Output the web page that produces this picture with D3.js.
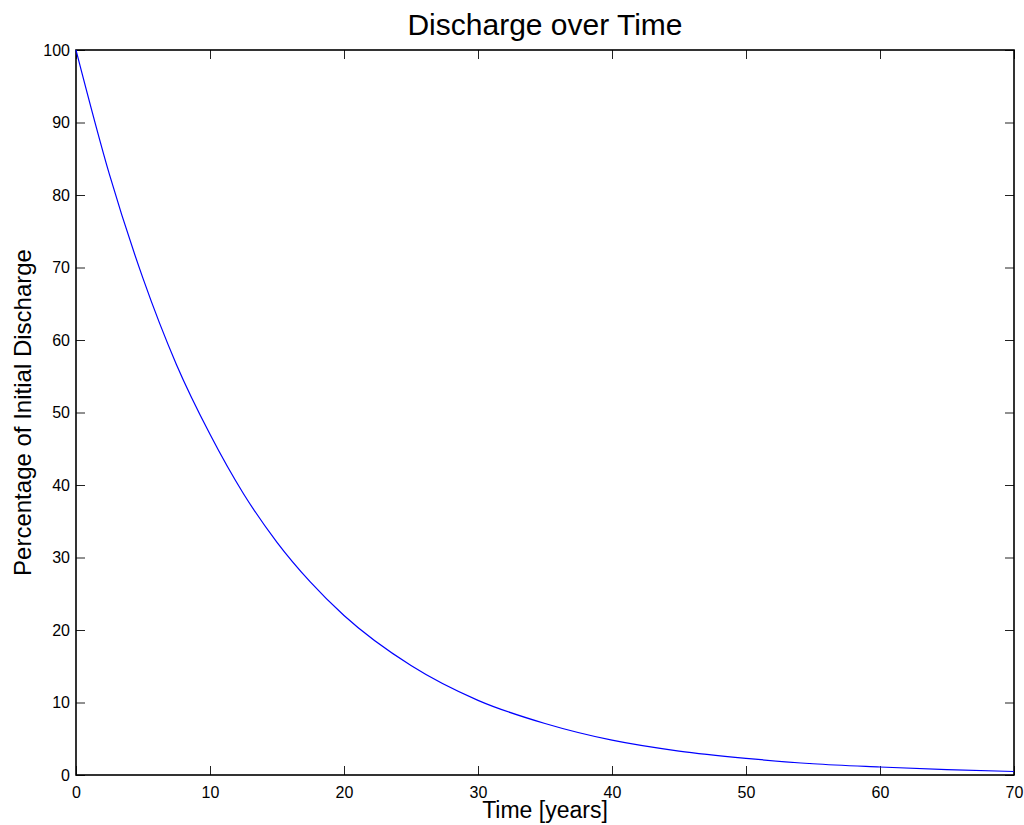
<!DOCTYPE html>
<html>
<head>
<meta charset="utf-8">
<script src="https://cdn.jsdelivr.net/npm/d3@7"></script>
<style>
  body { margin: 0; background: #fff; }
  text { font-family: "Liberation Sans", Arial, Helvetica, sans-serif; fill: #000; }
</style>
</head>
<body>
<div id="container"></div>
<script>
// Chart size
var svg_width = 1024
var svg_height = 825

// Data (years, percent of initial discharge)
var years = [0, 2.5, 5, 7.5, 10, 12.5, 15, 17.5, 20, 25, 30, 35, 40, 45, 50, 55, 60, 65, 70]
var discharge = [100, 82.8, 68.5, 56.6, 47, 38.8, 32.1, 26.6, 22, 15.1, 10.3, 7.1, 4.8, 3.3, 2.3, 1.55, 1.1, 0.73, 0.48]

// Tick values
var xTicks = [0, 10, 20, 30, 40, 50, 60, 70]
var yTicks = [0, 10, 20, 30, 40, 50, 60, 70, 80, 90, 100]

// Axes box (plot area edges)
var boxLeft = 76, boxRight = 1014, boxTop = 50, boxBottom = 775
var tickLen = 9

var svg = d3.select("#container")
    .append("svg")
    .attr("width", svg_width)
    .attr("height", svg_height)

var x = d3.scaleLinear().domain([0, 70]).range([boxLeft, boxRight])
var y = d3.scaleLinear().domain([0, 100]).range([boxBottom, boxTop])

// bottom axis (labels) and top axis (ticks only)
svg.append("g")
    .attr("transform", "translate(0," + boxBottom + ")")
    .call(d3.axisBottom(x).tickValues(xTicks).tickSize(-tickLen).tickPadding(12).tickFormat(d3.format("d")))
svg.append("g")
    .attr("transform", "translate(0," + boxTop + ")")
    .call(d3.axisTop(x).tickValues(xTicks).tickSize(-tickLen).tickFormat(""))

// left axis (labels) and right axis (ticks only)
svg.append("g")
    .attr("transform", "translate(" + boxLeft + ",0)")
    .call(d3.axisLeft(y).tickValues(yTicks).tickSize(-tickLen).tickPadding(6).tickFormat(d3.format("d")))
svg.append("g")
    .attr("transform", "translate(" + boxRight + ",0)")
    .call(d3.axisRight(y).tickValues(yTicks).tickSize(-tickLen).tickFormat(""))

svg.selectAll(".domain").remove()
svg.selectAll(".tick line").attr("stroke", "#222").attr("stroke-width", 1)
svg.selectAll(".tick text").style("font-size", "16px").attr("fill", "#000")

// box frame
svg.append("rect")
    .attr("x", boxLeft)
    .attr("y", boxTop)
    .attr("width", boxRight - boxLeft)
    .attr("height", boxBottom - boxTop)
    .attr("fill", "none")
    .attr("stroke", "#000")
    .attr("stroke-width", 1.6)

// curve
var points = years.map(function(t, i){ return [t, discharge[i]]; })
var line = d3.line()
    .x(function(d){ return x(d[0]); })
    .y(function(d){ return y(d[1]); })
    .curve(d3.curveMonotoneX)

svg.append("path")
    .datum(points)
    .attr("d", line)
    .attr("fill", "none")
    .attr("stroke", "#0000ff")
    .attr("stroke-width", 1.2)

// title and axis labels
svg.append("text")
    .attr("x", (boxLeft + boxRight) / 2)
    .attr("y", 35)
    .attr("text-anchor", "middle")
    .style("font-size", "30px")
    .text("Discharge over Time")

svg.append("text")
    .attr("x", (boxLeft + boxRight) / 2)
    .attr("y", 818)
    .attr("text-anchor", "middle")
    .style("font-size", "23px")
    .text("Time [years]")

svg.append("text")
    .attr("transform", "translate(31," + ((boxTop + boxBottom) / 2) + ") rotate(-90)")
    .attr("text-anchor", "middle")
    .style("font-size", "24px")
    .text("Percentage of Initial Discharge")
</script>
</body>
</html>
